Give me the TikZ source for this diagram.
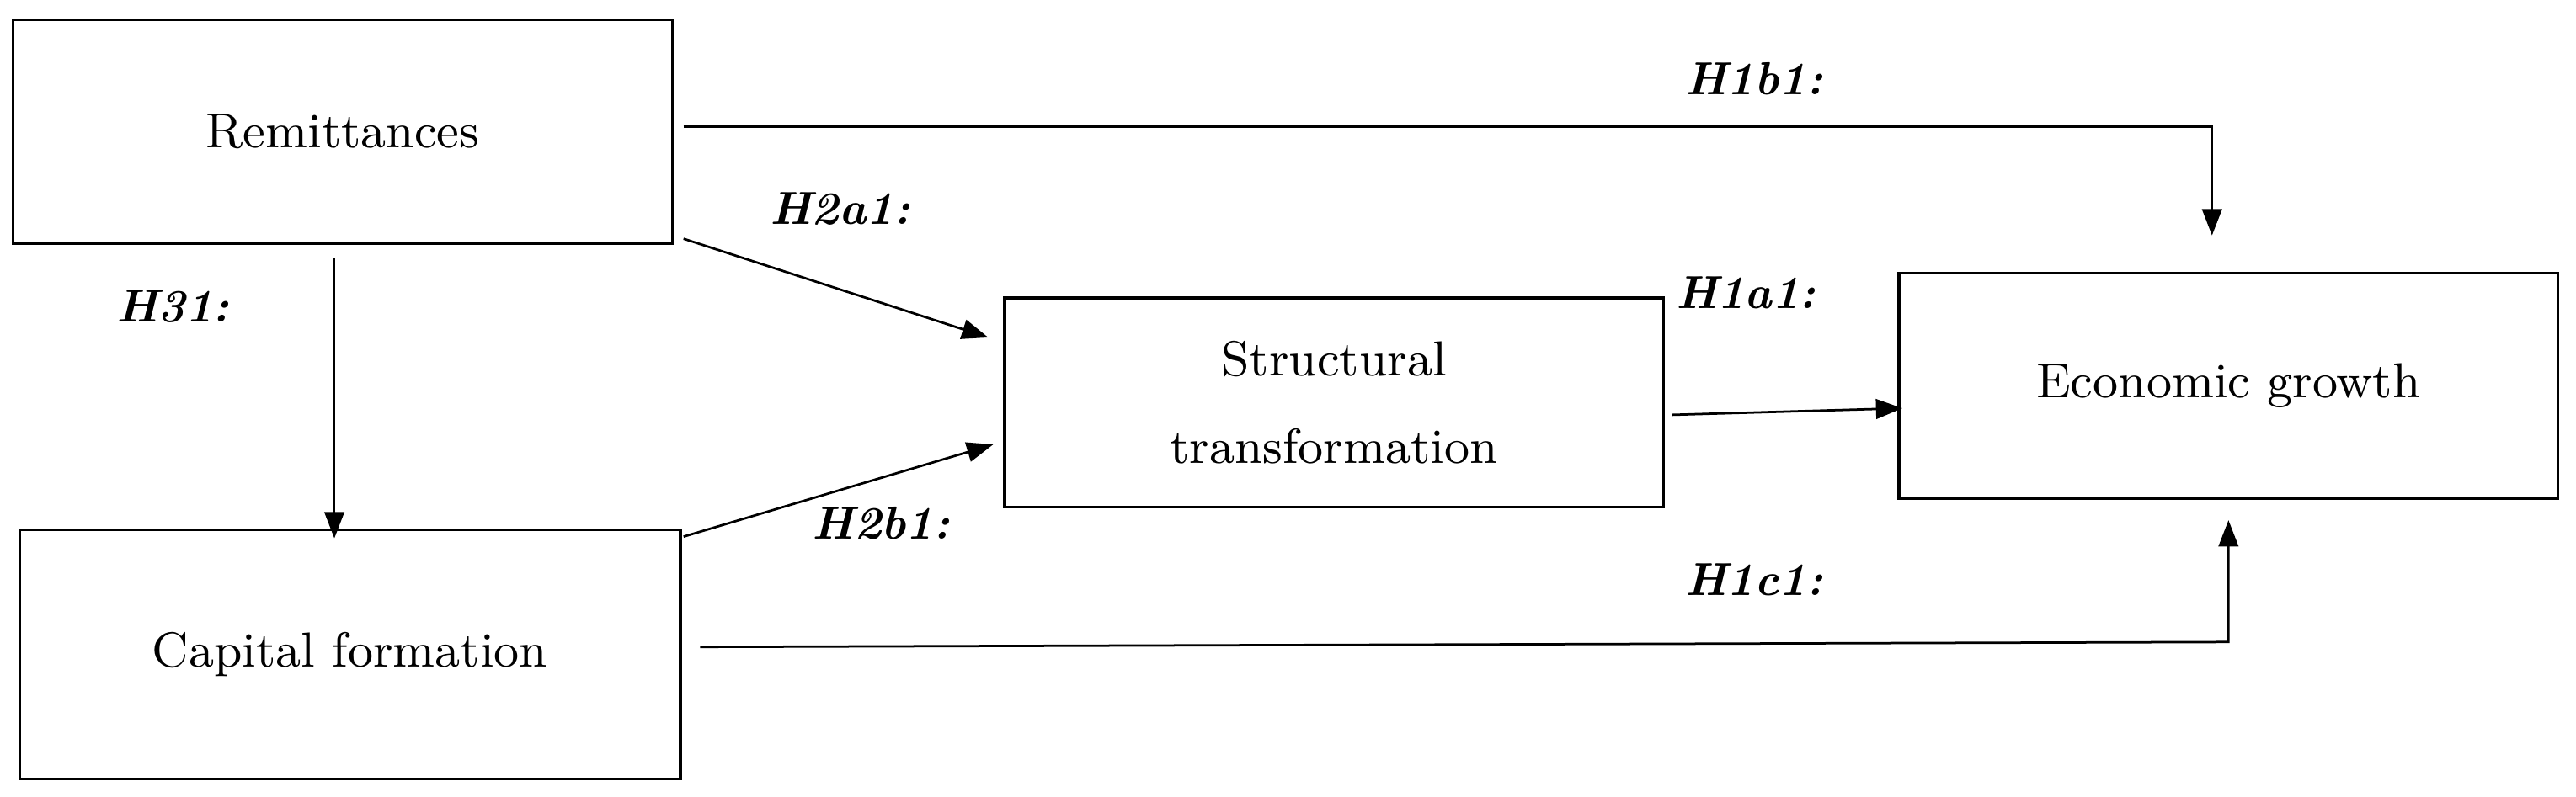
\documentclass[tikz,border=0pt]{standalone}
\usetikzlibrary{arrows.meta}
\begin{document}
\begin{tikzpicture}[x=0.01cm,y=-0.01cm,
  box/.style={draw,line width=0.5pt,inner sep=0pt,font=\fontsize{8.5}{11}\selectfont,align=center},
  arr/.style={line width=0.4pt,-{Triangle[length=0.16cm,width=0.12cm]}},
  lab/.style={font=\fontsize{8}{10}\selectfont\bfseries\itshape}]
\useasboundingbox (0,0) rectangle (1564,484);
\node[box,minimum width=4cm,minimum height=1.36cm] (rem) at (208,80) {Remittances};
\node[box,minimum width=4.01cm,minimum height=1.51cm] (cap) at (212.5,397.5) {Capital formation};
\node[box,minimum width=4cm,minimum height=1.27cm] (st) at (810,244.5) {Structural\\[4pt]transformation};
\node[box,minimum width=4cm,minimum height=1.37cm] (eg) at (1353,234.5) {Economic growth};
\coordinate (a1) at (415,77); \coordinate (a2) at (1343,77); \coordinate (a3) at (1343,143);
\draw[arr] (a1) -- (a2) -- (a3);
\coordinate (b1) at (415,145); \coordinate (b2) at (600,205);
\draw[arr] (b1) -- (b2);
\coordinate (c1) at (203,157); \coordinate (c2) at (203,327);
\draw[arr] (c1) -- (c2);
\coordinate (d1) at (415,326); \coordinate (d2) at (603,270);
\draw[arr] (d1) -- (d2);
\coordinate (e1) at (1015,252); \coordinate (e2) at (1155,248);
\draw[arr] (e1) -- (e2);
\coordinate (f1) at (425,393); \coordinate (f2) at (1353,390); \coordinate (f3) at (1353,316);
\draw[arr] (f1) -- (f2) -- (f3);
\node[lab] (l1) at (1065,48) {H1b1:};
\node[lab] (l2) at (510,127) {H2a1:};
\node[lab] (l3) at (105,186) {H31:};
\node[lab] (l4) at (535,318) {H2b1:};
\node[lab] (l5) at (1060,178) {H1a1:};
\node[lab] (l6) at (1065,352) {H1c1:};
\end{tikzpicture}
\end{document}
